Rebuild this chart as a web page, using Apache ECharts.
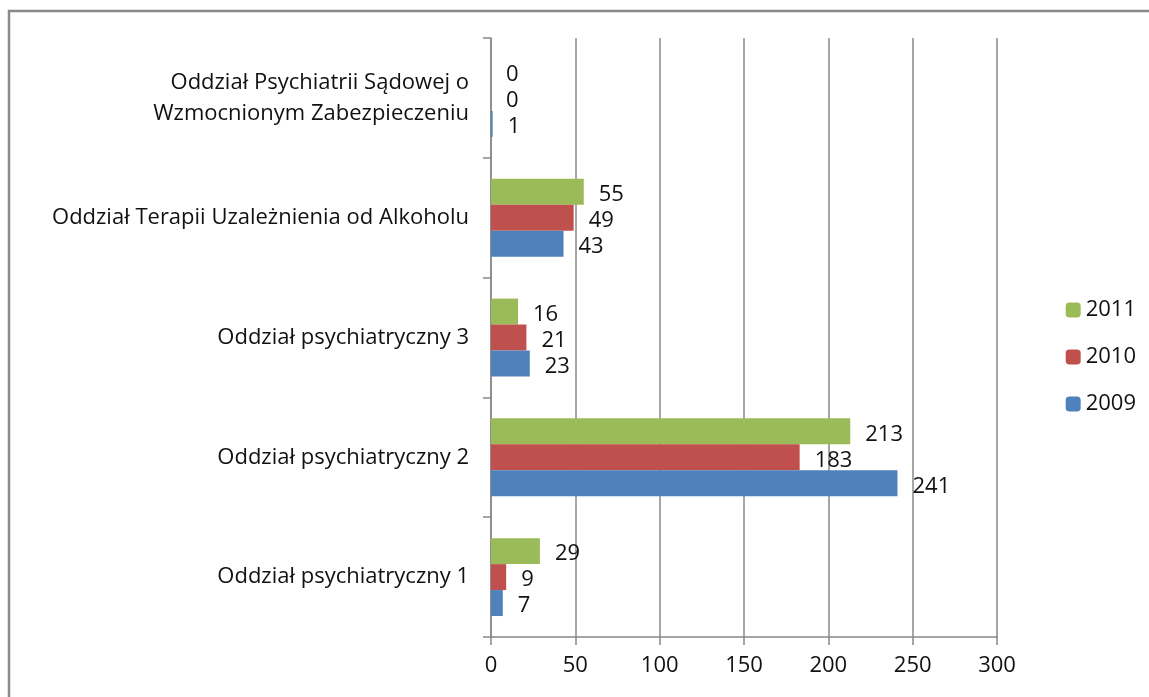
<!DOCTYPE html>
<html><head><meta charset="utf-8">
<script src="https://cdn.jsdelivr.net/npm/echarts@6/dist/echarts.min.js"></script>
<style>html,body{margin:0;padding:0;background:#fff}#c{width:1149px;height:697px}</style>
</head><body><div id="c"></div>
<script>
const categories = ['Oddział psychiatryczny 1','Oddział psychiatryczny 2','Oddział psychiatryczny 3','Oddział Terapii Uzależnienia od Alkoholu','Oddział Psychiatrii Sądowej o\nWzmocnionym Zabezpieczeniu'];
const s2009 = [7, 241, 23, 43, 1];
const s2010 = [9, 183, 21, 49, 0];
const s2011 = [29, 213, 16, 55, 0];
const xTicks = {min: 0, max: 300, interval: 50};
const font = '"Open Sans", sans-serif';
const chart = echarts.init(document.getElementById('c'));
const lbl = {show: true, position: 'right', distance: 15, color: '#111', fontSize: 22, fontFamily: font, offset: [0, 3]};
chart.setOption({
  animation: false,
  graphic: [{type: 'rect', shape: {x: 9, y: 11, width: 1300, height: 900}, style: {fill: 'none', stroke: '#8a8a8a', lineWidth: 2.5}}],
  grid: {left: 491, right: 152, top: 38, bottom: 60},
  legend: {orient: 'vertical', right: 8, top: 294, itemWidth: 15, itemHeight: 15, itemGap: 25,
    data: ['2011','2010','2009'], textStyle: {fontSize: 22, color: '#111', fontFamily: font}},
  xAxis: {type: 'value', min: xTicks.min, max: xTicks.max, interval: xTicks.interval,
    axisLine: {show: true, lineStyle: {color: '#888', width: 1.5}},
    axisTick: {show: true, length: 8, lineStyle: {color: '#888', width: 1.5}},
    splitLine: {show: true, lineStyle: {color: '#888', width: 1.5}},
    axisLabel: {fontSize: 22, color: '#111', margin: 18, fontFamily: font}},
  yAxis: {type: 'category', data: categories,
    axisLine: {show: true, lineStyle: {color: '#888', width: 1.5}},
    axisTick: {show: true, length: 8, lineStyle: {color: '#888', width: 1.5}},
    axisLabel: {fontSize: 22, color: '#111', margin: 22, fontFamily: font, lineHeight: 31, align: 'right'}},
  series: [
    {name: '2011', type: 'bar', data: s2011, itemStyle: {color: '#9BBB59'}, barGap: '0%', barCategoryGap: '35%', label: lbl},
    {name: '2010', type: 'bar', data: s2010, itemStyle: {color: '#C0504D'}, barGap: '0%', barCategoryGap: '35%', label: lbl},
    {name: '2009', type: 'bar', data: s2009, itemStyle: {color: '#4F81BD'}, barGap: '0%', barCategoryGap: '35%', label: lbl}
  ]
});
</script></body></html>
